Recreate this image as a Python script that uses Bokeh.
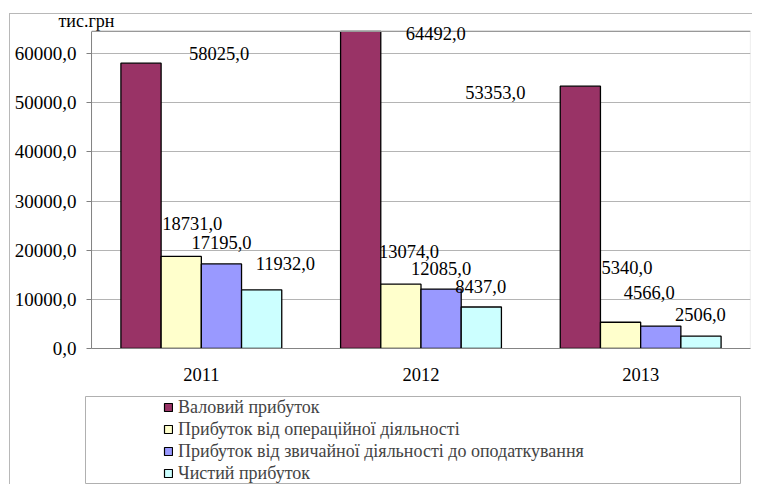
from bokeh.plotting import figure
from bokeh.layouts import column, row
from bokeh.models import (ColumnDataSource, FactorRange, Range1d, SingleIntervalTicker,
                          CustomJSTickFormatter, Legend, LegendItem, LabelSet, Title,
                          BoxAnnotation, Span)
from bokeh.core.properties import value
from bokeh.transform import dodge
from bokeh.embed import file_html
from bokeh.resources import INLINE

years = ["2011", "2012", "2013"]
series_names = ["Валовий прибуток",
                "Прибуток від операційної діяльності",
                "Прибуток від звичайної діяльності до оподаткування",
                "Чистий прибуток"]
gross = [58025.0, 64492.0, 53353.0]
operating = [18731.0, 13074.0, 5340.0]
ordinary = [17195.0, 12085.0, 4566.0]
net = [11932.0, 8437.0, 2506.0]
unit_label = "тис.грн"

colors = ["#993366", "#FFFFCC", "#9999FF", "#CCFFFF"]
offsets = [-0.2746, -0.0915, 0.0915, 0.2746]
bar_w = 0.183
axis_max = 64500
# label placement (pixels): dx from bar centre to label left, dy above bar top
label_dx = [[48, 45, -115], [-19, -22, -19], [-30, -30, -37], [-6, -26, -26]]
label_dy = [[10, -2, -6], [33, 33, 55], [21, 21, 34], [26, 21, 22]]

FONT = "Liberation Serif"
GRID = "#b4b4b4"
FRAME = "#999999"

p = figure(x_range=FactorRange(*years), y_range=Range1d(0, 66712),
           width=752, height=388, output_backend="svg", toolbar_location=None,
           min_border_left=91, min_border_right=2, min_border_top=20, min_border_bottom=40)
p.outline_line_color = None
p.background_fill_color = "white"
p.border_fill_alpha = 0

# plot-area box
p.add_layout(BoxAnnotation(left=0, right=3, bottom=0, top=axis_max,
                           fill_alpha=0, line_color=FRAME, line_width=1.2))
p.add_layout(Span(location=axis_max, dimension="width", line_color=FRAME, line_width=1.2))

vals = [gross, operating, ordinary, net]
for i, v in enumerate(vals):
    src = ColumnDataSource(dict(year=years, val=v,
                                txt=[f"{x:.1f}".replace(".", ",") for x in v],
                                dx=label_dx[i], dy=label_dy[i]))
    p.vbar(x=dodge("year", offsets[i], range=p.x_range), top="val", width=bar_w,
           source=src, fill_color=colors[i], line_color="black", line_width=1.3)
    ls = LabelSet(x=dodge("year", offsets[i], range=p.x_range), y="val", text="txt",
                  x_offset="dx", y_offset="dy", source=src,
                  text_font=value(FONT), text_font_size="18.5px", text_align="left",
                  text_baseline="middle", text_color="black")
    p.add_layout(ls)

p.xgrid.grid_line_color = None
p.ygrid.grid_line_color = GRID
p.yaxis.ticker = SingleIntervalTicker(interval=10000)
p.yaxis.bounds = (0, axis_max)
p.yaxis.formatter = CustomJSTickFormatter(code="return tick.toFixed(1).replace('.', ',');")
p.yaxis.major_label_text_font = FONT
p.yaxis.major_label_text_font_size = "19px"
p.yaxis.major_label_text_color = "black"
p.yaxis.axis_line_color = "#808080"
p.yaxis.major_tick_line_color = "#808080"
p.yaxis.major_tick_in = 0
p.yaxis.major_tick_out = 5
p.yaxis.minor_tick_line_color = None
p.yaxis.major_label_standoff = 10

p.xaxis.major_label_text_font = FONT
p.xaxis.major_label_text_font_size = "18.5px"
p.xaxis.major_label_text_color = "black"
p.xaxis.axis_line_color = "#808080"
p.xaxis.major_tick_line_color = None
p.xaxis.major_tick_out = 0
p.xaxis.major_label_standoff = 19

p.add_layout(Title(text=unit_label, align="left", offset=-33, standoff=-38,
                   vertical_align="middle",
                   text_font=FONT, text_font_size="18px", text_font_style="normal",
                   text_color="black"), "above")

# legend panel
p2 = figure(x_range=Range1d(0, 1), y_range=Range1d(1, 2), width=752, height=96,
            output_backend="svg", toolbar_location=None,
            x_axis_location=None, y_axis_location=None,
            min_border_left=85, min_border_right=12, min_border_top=8, min_border_bottom=0)
p2.grid.visible = False
p2.outline_line_color = "#b0b0b0"
p2.border_fill_alpha = 0
leg_r = [p2.vbar(x=[0], top=[0], width=0.1, fill_color=c, line_color="black", line_width=1.2)
         for c in colors]
legend = Legend(items=[LegendItem(label=n, renderers=[r]) for n, r in zip(series_names, leg_r)],
                location=(78, 0), orientation="vertical", padding=0, spacing=0, margin=0,
                label_height=22, glyph_height=10, glyph_width=10, label_standoff=5,
                label_text_font=FONT, label_text_font_size="18px",
                border_line_color=None, background_fill_alpha=0)
p2.add_layout(legend)

layout = column(p, row(p2), spacing=0, styles={
    "background-image": "linear-gradient(#b8b8b8,#b8b8b8), linear-gradient(#b8b8b8,#b8b8b8)",
    "background-position": "9px 13px, 9px 13px",
    "background-size": "100% 1px, 1px 100%",
    "background-repeat": "no-repeat",
})

open("out.html", "w").write(file_html(layout, INLINE))
